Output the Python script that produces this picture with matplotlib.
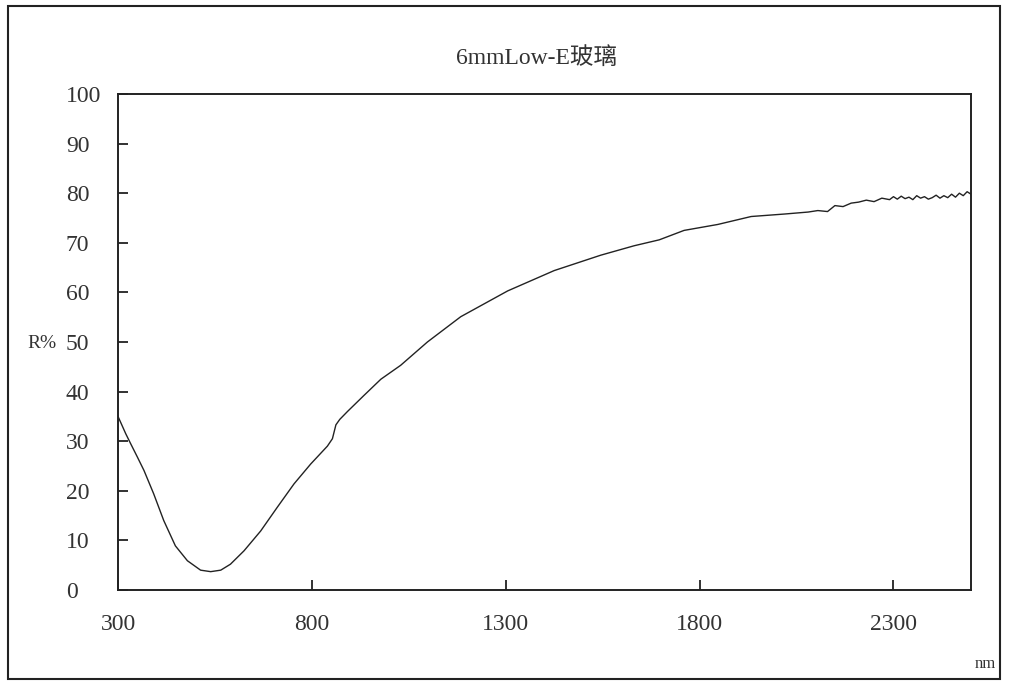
import matplotlib
matplotlib.use("Agg")
import matplotlib.pyplot as plt
from matplotlib.patches import Rectangle

# ---- data ----
wavelength = [300, 320, 332, 350, 367, 392, 418, 448, 479, 513, 539, 565, 590, 625,
              668, 711, 754, 797, 840, 853, 862, 872, 892, 934, 978, 1029, 1098,
              1184, 1305, 1425, 1545, 1631, 1696, 1760, 1847, 1933, 2019, 2080,
              2105, 2130, 2149, 2170, 2191, 2210, 2230, 2250, 2270, 2290, 2300,
              2310, 2320, 2330, 2340, 2350, 2360, 2370, 2380, 2390, 2400, 2410,
              2420, 2430, 2440, 2450, 2460, 2470, 2480, 2490, 2500]
reflectance = [35.0, 31.5, 29.6, 26.8, 24.1, 19.4, 14.0, 8.9, 5.9, 4.0, 3.7, 4.0, 5.2, 7.9,
               11.9, 16.7, 21.4, 25.4, 29.0, 30.5, 33.3, 34.4, 36.0, 39.2, 42.5, 45.3, 50.0,
               55.1, 60.3, 64.4, 67.5, 69.4, 70.6, 72.5, 73.7, 75.3, 75.8, 76.2,
               76.5, 76.3, 77.5, 77.3, 78.0, 78.2, 78.6, 78.3, 79.0, 78.7, 79.3,
               78.8, 79.4, 78.9, 79.2, 78.7, 79.5, 79.0, 79.3, 78.8, 79.1, 79.6,
               79.0, 79.5, 79.1, 79.8, 79.2, 80.0, 79.5, 80.3, 79.8]
x_ticks = [300, 800, 1300, 1800, 2300]
y_ticks = [0, 10, 20, 30, 40, 50, 60, 70, 80, 90, 100]
title = "6mmLow-E玻璃"
y_label = "R%"
x_label = "nm"

W, H = 1012, 683
fig = plt.figure(figsize=(W / 100, H / 100), dpi=100)
fig.patch.set_facecolor("white")

ink = "#222222"
font_fam = ["Liberation Serif", "Noto Sans CJK SC", "DejaVu Sans"]

ax = fig.add_axes([118 / W, 1 - 590 / H, (971 - 118) / W, (590 - 94) / H])
ax.plot(wavelength, reflectance, color=ink, lw=1.0)
ax.set_xlim(300, 2500)
ax.set_ylim(0, 100)
ax.set_xticks(x_ticks)
ax.set_yticks(y_ticks)
ax.set_xticklabels([str(v) for v in x_ticks], family=font_fam, fontsize=17, color="#333333")
ax.set_yticklabels([str(v) for v in y_ticks], family=font_fam, fontsize=17, color="#333333")
ax.tick_params(axis="both", direction="in", length=7, width=1.3, colors=ink)
ax.tick_params(axis="y", pad=37.5, labelcolor="#333333")
ax.tick_params(axis="x", pad=17, labelcolor="#333333")
for lab in ax.get_yticklabels():
    lab.set_horizontalalignment("left")
for sp in ax.spines.values():
    sp.set_linewidth(1.4)
    sp.set_color(ink)

fig.text(537 / W, 1 - 58 / H, title, ha="center", va="center", fontsize=17,
         family=["Liberation Serif", "Noto Sans CJK SC", "DejaVu Sans"], color="#333333")
fig.text(42 / W, 1 - 343 / H, y_label, ha="center", va="center", fontsize=14,
         family=font_fam, color="#333333")
fig.text(985 / W, 1 - 664 / H, x_label, ha="center", va="center", fontsize=12,
         family=font_fam, color="#333333")

# outer frame
fig.patches.append(Rectangle((8 / W, 1 - 679 / H), (1000 - 8) / W, (679 - 6) / H,
                             transform=fig.transFigure, fill=False, lw=1.5,
                             edgecolor=ink))

fig.savefig("out.png", dpi=100, facecolor="white")
